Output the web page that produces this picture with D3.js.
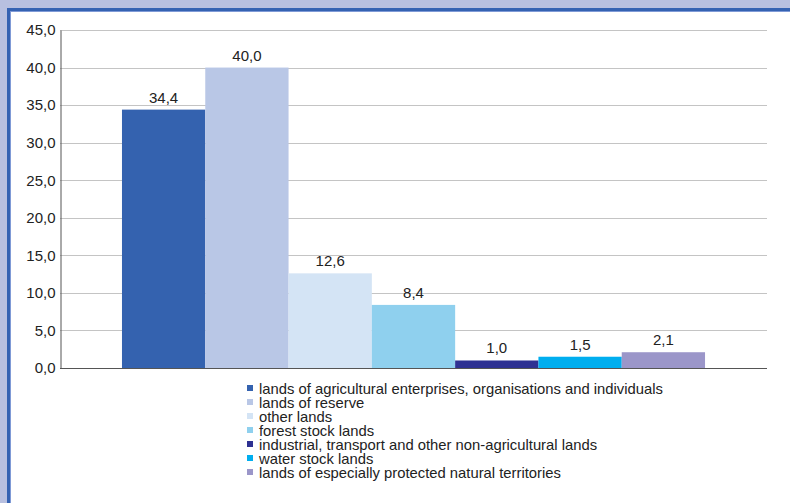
<!DOCTYPE html>
<html><head><meta charset="utf-8">
<script src="https://cdn.jsdelivr.net/npm/d3@7"></script>
<style>
html,body{margin:0;padding:0;background:#b8c0e0;}
svg{display:block;}
text{font-family:"Liberation Sans",Arial,Helvetica,sans-serif;}
</style></head>
<body>
<svg id="chart" width="790" height="503"></svg>
<script>
const categories = [
  "lands of agricultural enterprises, organisations and individuals",
  "lands of reserve",
  "other lands",
  "forest stock lands",
  "industrial, transport and other non-agricultural lands",
  "water stock lands",
  "lands of especially protected natural territories"
];
const values = [34.4, 40.0, 12.6, 8.4, 1.0, 1.5, 2.1];
const colors = ["#3462af", "#b9c7e6", "#d4e4f5", "#8fd0ee", "#2e3192", "#00aeef", "#9b96c9"];
const yTicks = [0, 5, 10, 15, 20, 25, 30, 35, 40, 45];

(function () {
const svg = d3.select("#chart");
const fmt = v => v.toFixed(1).replace(".", ",");

// frame
svg.append("rect").attr("x", 8.5).attr("y", 9.5).attr("width", 800).attr("height", 520)
  .attr("fill", "#ffffff").attr("stroke", "#3562b2").attr("stroke-width", 3);
svg.append("rect").attr("x", 10.5).attr("y", 11.5).attr("width", 800).attr("height", 520)
  .attr("fill", "none").attr("stroke", "#7f9ad6").attr("stroke-width", 1);

const pLeft = 60, pRight = 767, pTop = 30, pBottom = 368;
const x = d3.scaleBand().domain(categories).range([pLeft, pRight]).paddingInner(0).paddingOuter(0.744);
const y = d3.scaleLinear().domain([0, 45]).range([pBottom, pTop]);

// gridlines
svg.append("g").selectAll("line").data(yTicks.filter(t => t > 0)).join("line")
  .attr("x1", pLeft).attr("x2", pRight)
  .attr("y1", d => Math.round(y(d)) + 0.5).attr("y2", d => Math.round(y(d)) + 0.5)
  .attr("stroke", "#c4c4c4").attr("stroke-width", 1.2);

// bars
svg.append("g").selectAll("rect").data(values).join("rect")
  .attr("x", (d, i) => x(categories[i]))
  .attr("width", x.bandwidth())
  .attr("y", d => y(d))
  .attr("height", d => y(0) - y(d))
  .attr("fill", (d, i) => colors[i]);

// value labels
svg.append("g").selectAll("text").data(values).join("text")
  .attr("x", (d, i) => x(categories[i]) + x.bandwidth() / 2)
  .attr("y", d => y(d) - 7)
  .attr("text-anchor", "middle")
  .attr("font-size", 15).attr("fill", "#222")
  .text(d => fmt(d));

// y axis
const yAxis = d3.axisLeft(y).tickValues(yTicks).tickSize(0).tickPadding(5).tickFormat(fmt);
const gy = svg.append("g").attr("transform", `translate(${pLeft + 0.5},0)`).call(yAxis);
gy.select(".domain").attr("stroke", "#555").attr("stroke-width", 1);
gy.selectAll("text").attr("font-size", 15).attr("fill", "#222")
  .attr("font-family", '"Liberation Sans",Arial,sans-serif');

// x axis line
svg.append("line").attr("x1", pLeft).attr("x2", pRight)
  .attr("y1", pBottom + 0.5).attr("y2", pBottom + 0.5)
  .attr("stroke", "#555").attr("stroke-width", 1.2);

// legend
const lg = svg.append("g");
const items = lg.selectAll("g").data(categories).join("g")
  .attr("transform", (d, i) => `translate(247,${388 + i * 14})`);
items.append("rect").attr("x", 0).attr("y", -3).attr("width", 6).attr("height", 6)
  .attr("fill", (d, i) => colors[i]);
items.append("text").attr("x", 12).attr("y", 5.5).attr("font-size", 14.8).attr("fill", "#222")
  .text(d => d);
})();
</script>
</body></html>
